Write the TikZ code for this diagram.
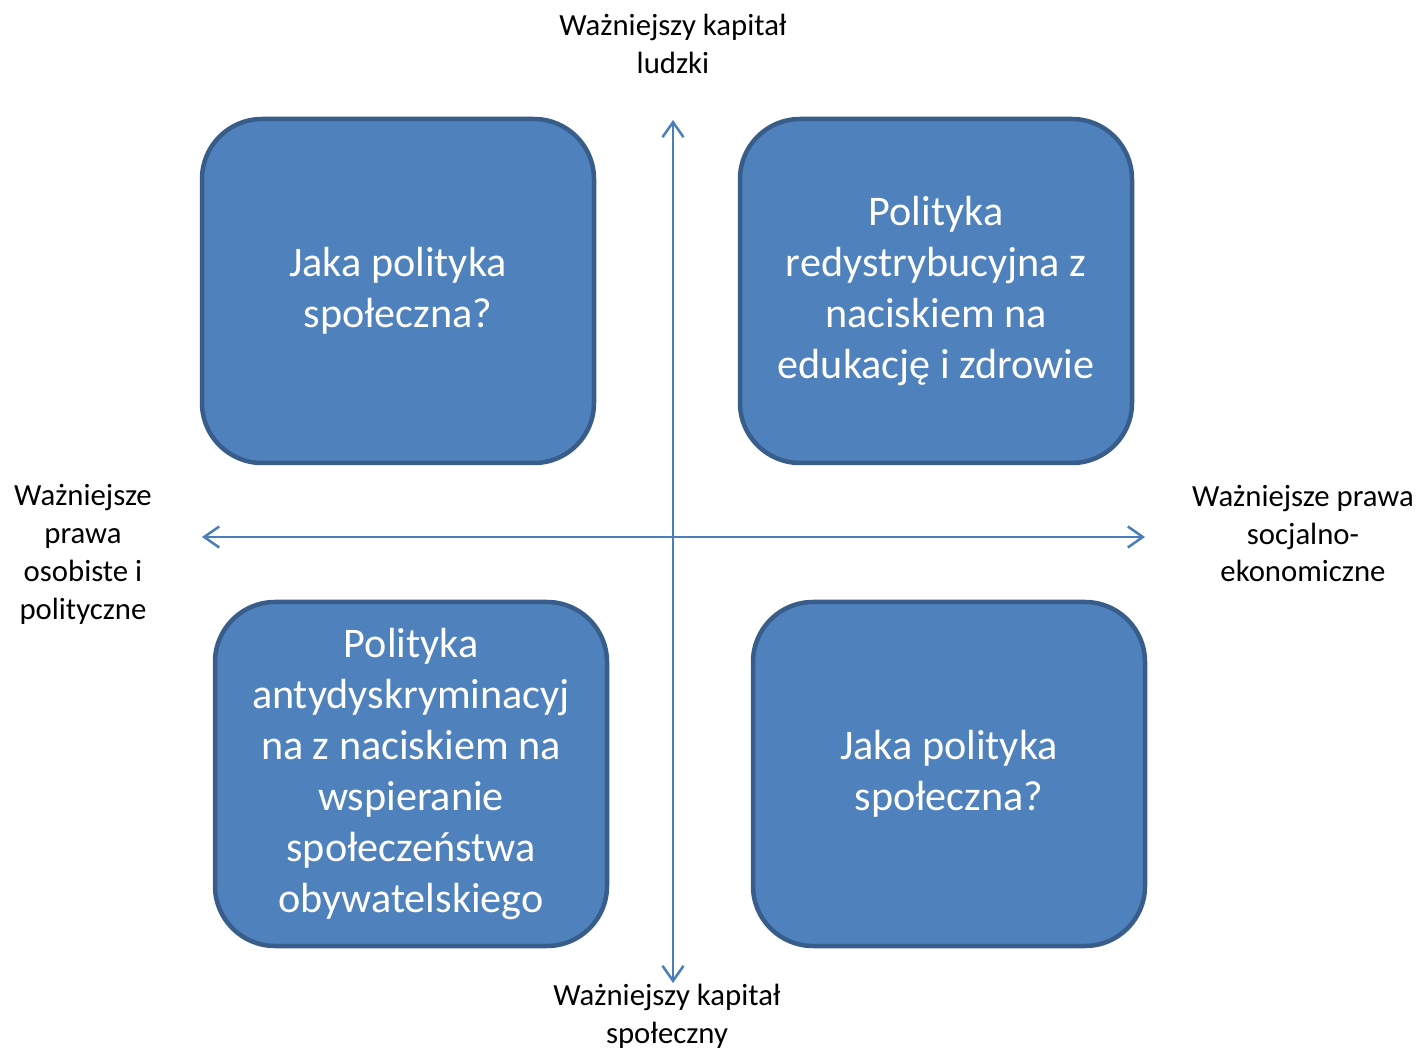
\documentclass[tikz,border=0pt]{standalone}
\usepackage{fontspec}
\setmainfont{Carlito}
\usetikzlibrary{arrows.meta,positioning}
\usepackage{xcolor}
\definecolor{boxfill}{RGB}{79, 129, 189}
\definecolor{boxline}{RGB}{56, 93, 138}
\definecolor{axis}{RGB}{74, 126, 187}

\tikzset{
    quadrant/.style={
        rectangle,
        rounded corners=1.2cm,
        draw=boxline,
        fill=boxfill,
        line width=0.09cm,
        minimum width=7.84cm,
        minimum height=6.88cm,
        align=center,
        text=white,
        font=\fontsize{24}{29}\selectfont
    },
    axislabel/.style={
        align=center,
        font=\fontsize{17.5}{21.6}\selectfont
    },
    axisarrow/.style={
        draw=axis,
        line width=0.05cm,
        {Straight Barb[length=0.3cm,width=0.42cm]}-{Straight Barb[length=0.3cm,width=0.42cm]}
    }
}

\begin{document}
\begin{tikzpicture}
            \useasboundingbox (0,0) rectangle (28.42,21);

            % quadrants
            \node (tl) [quadrant] at (7.96,15.18)
            {
                Jaka polityka\\
                społeczna?
            };
            \node (tr) [quadrant] at (18.72,15.18)
            {
                Polityka\\
                redystrybucyjna z\\
                naciskiem na\\
                edukację i zdrowie
            };
            \node (bl) [quadrant] at (8.22,5.52)
            {
                Polityka\\
                antydyskryminacyj\\
                na z naciskiem na\\
                wspieranie\\
                społeczeństwa\\
                obywatelskiego
            };
            \node (br) [quadrant] at (18.98,5.52)
            {
                Jaka polityka\\
                społeczna?
            };

            % axes
            \coordinate (top) at (13.46,18.6);
            \coordinate (bottom) at (13.46,1.34);
            \coordinate (left) at (4.04,10.26);
            \coordinate (right) at (22.9,10.26);

            \draw[axisarrow] (bottom) to (top);
            \draw[axisarrow] (left) to (right);

            % axis labels
            \node (human) [axislabel] at (13.46,20.12) {Ważniejszy kapitał\\ludzki};
            \node (social) [axislabel] at (13.34,0.68) {Ważniejszy kapitał\\społeczny};
            \node (civil) [axislabel] at (1.66,9.91) {Ważniejsze\\prawa\\osobiste i\\polityczne};
            \node (economic) [axislabel] at (26.06,10.33) {Ważniejsze prawa\\socjalno-\\ekonomiczne};
        \end{tikzpicture}
\end{document}
